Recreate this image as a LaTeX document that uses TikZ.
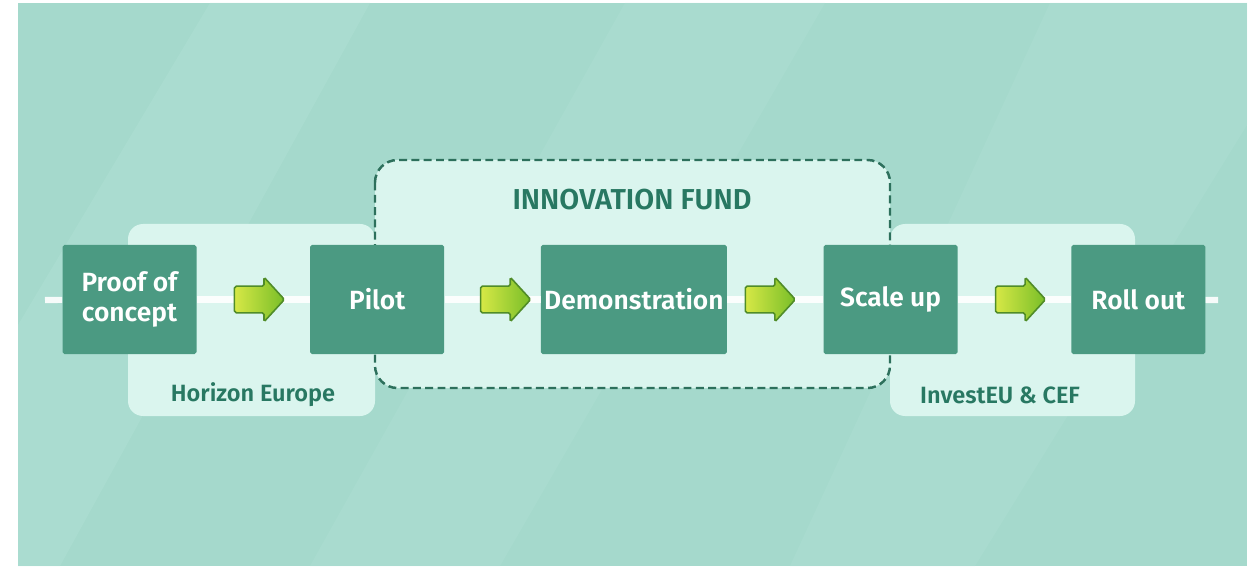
\documentclass[tikz,border=0pt]{standalone}
\usepackage{fontspec}
\setmainfont{Fira Sans}[BoldFont={Fira Sans SemiBold}]
\usepackage{tikz}
\usetikzlibrary{positioning, shapes.arrows, backgrounds, calc}
\definecolor{bgteal}{RGB}{165, 217, 204}
\definecolor{bgstripe}{RGB}{176, 224, 212}
\definecolor{panelmint}{RGB}{218, 245, 238}
\definecolor{stagegreen}{RGB}{75, 154, 130}
\definecolor{labelteal}{RGB}{40, 120, 98}
\definecolor{fundline}{RGB}{45, 112, 92}
\definecolor{arrowlight}{RGB}{214, 232, 70}
\definecolor{arrowdark}{RGB}{120, 190, 40}
\definecolor{arrowedge}{RGB}{80, 140, 40}
\tikzset{
    stagebox/.style={
        rectangle, fill=stagegreen, text=white, font=\bfseries\fontsize{15}{17}\selectfont,
        minimum width=2.68cm, minimum height=2.18cm, align=center, rounded corners=1pt,
        inner xsep=1pt
    },
    panel/.style={
        fill=panelmint, rounded corners=0.3cm
    },
    rail/.style={
        white, line width=3.5pt, opacity=0.9
    },
    steparrow/.style={
        single arrow, draw=arrowedge, line width=0.9pt, left color=arrowlight, right color=arrowdark,
        minimum height=1.0cm, inner xsep=0pt, inner ysep=0.25cm, single arrow head extend=0.18cm,
        single arrow tip angle=95, rounded corners=1pt
    },
    panellabel/.style={
        font=\bfseries\fontsize{13.4}{15}\selectfont, text=labelteal
    }
}
\begin{document}
\begin{tikzpicture}
    \useasboundingbox (0,0) rectangle (25.12,-11.38);

    % Stufen der Kette
    \node[stagebox] (proof) at (2.59,-5.99) {Proof of\\[0pt]concept};
    \node[stagebox, right=2.26cm of proof] (pilot) {Pilot};
    \node[stagebox, minimum width=3.72cm, right=1.92cm of pilot] (demo) {Demonstration};
    \node[stagebox, right=1.92cm of demo] (scale) {Scale up};
    \node[stagebox, right=2.26cm of scale] (roll) {Roll out};

    \coordinate (railstart) at (0.9,-6.0);
    \coordinate (railend) at (24.36,-6.0);

    % Hintergrund und Programme
    \begin{scope}[on background layer]
        \fill[bgteal] (0.36,-0.06) rectangle (24.94,-11.32);
        \fill[bgstripe, opacity=0.5] (4.2,-0.06) -- (7.4,-0.06) -- (1.2,-11.32) -- (0.36,-11.32) -- (0.36,-6.5) -- cycle;
        \fill[bgstripe, opacity=0.4] (12.5,-0.06) -- (16.5,-0.06) -- (10.0,-11.32) -- (6.2,-11.32) -- cycle;
        \fill[bgstripe, opacity=0.4] (21.0,-0.06) -- (24.94,-0.06) -- (24.94,-2.5) -- (19.5,-11.32) -- (15.8,-11.32) -- cycle;
        \fill[panel] (2.56,-4.48) rectangle (7.5,-8.32);
        \fill[panel] (17.8,-4.48) rectangle (22.7,-8.32);
        \draw[fundline, fill=panelmint, line width=1.4pt, dash pattern=on 4.5pt off 2.5pt, rounded corners=0.45cm]
            (7.5,-3.2) rectangle (17.8,-7.76);
    \end{scope}

    % Schiene mit Pfeilen
    \draw[rail] (railstart) -- (proof);
    \draw[rail] (proof) -- node[steparrow, opacity=1] (a1) {} (pilot);
    \draw[rail] (pilot) -- node[steparrow, opacity=1, xshift=0.14cm] (a2) {} (demo);
    \draw[rail] (demo) -- node[steparrow, opacity=1, xshift=-0.22cm] (a3) {} (scale);
    \draw[rail] (scale) -- node[steparrow, opacity=1] (a4) {} (roll);
    \draw[rail] (roll) -- (railend);

    % Beschriftungen
    \node[panellabel] (horizon) at (5.06,-7.9) {Horizon Europe};
    \node[panellabel, font=\bfseries\fontsize{16.4}{18}\selectfont] (fund) at (12.64,-4.0) {INNOVATION FUND};
    \node[panellabel] (investeu) at (20.0,-7.9) {InvestEU \& CEF};
\end{tikzpicture}
\end{document}
